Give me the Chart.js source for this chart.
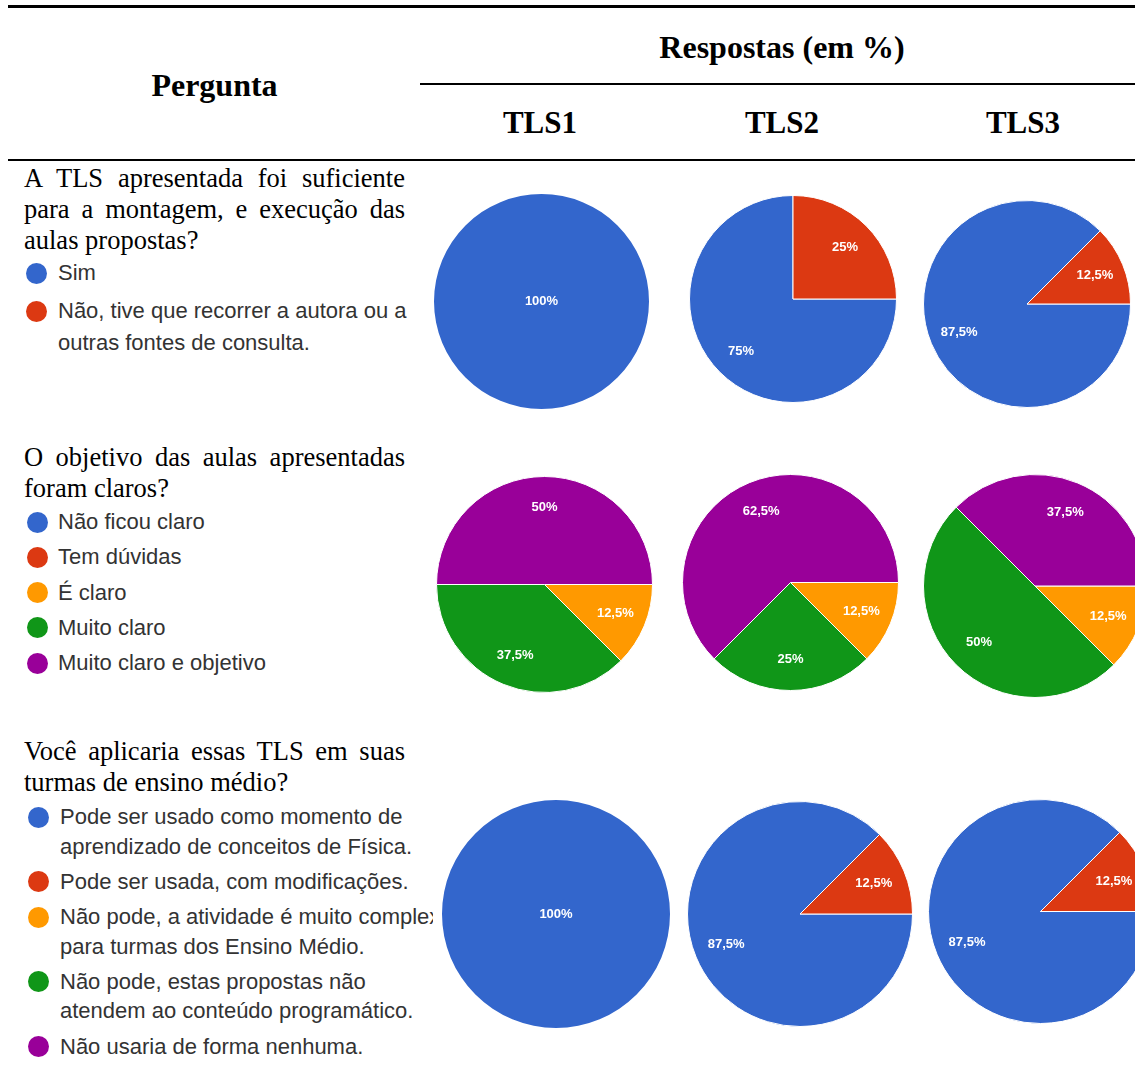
<!DOCTYPE html>
<html>
<head>
<meta charset="utf-8">
<script src="https://cdn.jsdelivr.net/npm/chart.js@4/dist/chart.umd.min.js"></script>
<style>
  html, body { margin:0; padding:0; background:#fff; width:1135px; height:1068px; overflow:hidden; }
  #page { position:relative; width:1135px; height:1068px; overflow:hidden; }
  .abs { position:absolute; }
  .rule { position:absolute; background:#000; }
  .hdr { position:absolute; font-family:"Liberation Serif","Times New Roman",serif; font-weight:bold; color:#000; white-space:nowrap; text-align:center; }
  .q { position:absolute; font-family:"Liberation Serif","Times New Roman",serif; font-size:26.5px; color:#000; white-space:nowrap; height:31px; line-height:31px; }
  .q.just { text-align:justify; text-align-last:justify; }
  .lg { position:absolute; font-family:"Liberation Sans",Arial,sans-serif; font-size:22px; color:#333; white-space:nowrap; height:30px; line-height:30px; }
  .dot { position:absolute; border-radius:50%; }
  .clip { position:absolute; left:0; top:0; width:433px; height:1068px; overflow:hidden; }
</style>
</head>
<body>
<div id="page">
  <div class="clip" id="leftcol"></div>
</div>
<script>
// ---------------- DATA ----------------
const columnLabels = ['TLS1', 'TLS2', 'TLS3'];
const headerTitle = 'Respostas (em %)';
const headerQuestion = 'Pergunta';
const colors = ['#3366cc', '#dc3912', '#ff9900', '#109618', '#990099'];

const question1 = 'A TLS apresentada foi suficiente\npara a montagem, e execução das\naulas propostas?';
const options1 = ['Sim', 'Não, tive que recorrer a autora ou a\noutras fontes de consulta.'];
const q1TLS1 = [100, 0];
const q1TLS2 = [75, 25];
const q1TLS3 = [87.5, 12.5];

const question2 = 'O objetivo das aulas apresentadas\nforam claros?';
const options2 = ['Não ficou claro', 'Tem dúvidas', 'É claro', 'Muito claro', 'Muito claro e objetivo'];
const q2TLS1 = [0, 0, 12.5, 37.5, 50];
const q2TLS2 = [0, 0, 12.5, 25, 62.5];
const q2TLS3 = [0, 0, 12.5, 50, 37.5];

const question3 = 'Você aplicaria essas TLS em suas\nturmas de ensino médio?';
const options3 = [
  'Pode ser usado como momento de\naprendizado de conceitos de Física.',
  'Pode ser usada, com modificações.',
  'Não pode, a atividade é muito complexa\npara turmas dos Ensino Médio.',
  'Não pode, estas propostas não\natendem ao conteúdo programático.',
  'Não usaria de forma nenhuma.'
];
const q3TLS1 = [100, 0, 0, 0, 0];
const q3TLS2 = [87.5, 12.5, 0, 0, 0];
const q3TLS3 = [87.5, 12.5, 0, 0, 0];

// ---------------- LAYOUT ----------------
const page = document.getElementById('page');
const leftcol = document.getElementById('leftcol');

function el(cls, parent, css, text) {
  const d = document.createElement('div');
  d.className = cls;
  Object.assign(d.style, css);
  if (text !== undefined) d.textContent = text;
  (parent || page).appendChild(d);
  return d;
}

// rules
el('rule', page, {left:'8px', top:'5px', width:'1127px', height:'2.5px'});
el('rule', page, {left:'420px', top:'83px', width:'715px', height:'2px'});
el('rule', page, {left:'8px', top:'159px', width:'1127px', height:'2px'});

// headers
function hdr(text, cx, cy, size) {
  el('hdr', page, {left:(cx - 200) + 'px', width:'400px', top:(cy - 20) + 'px', height:'40px', lineHeight:'40px', fontSize:size + 'px'}, text);
}
hdr(headerTitle, 782, 47, 32);
hdr(headerQuestion, 214.5, 85, 32);
const colCenters = [540, 782, 1023];
columnLabels.forEach((t, i) => hdr(t, colCenters[i], 123, 31));

// question text blocks
function question(text, firstY) {
  const lines = text.split('\n');
  lines.forEach((ln, i) => {
    const just = i < lines.length - 1;
    el('q' + (just ? ' just' : ''), leftcol, {left:'24px', width:'381px', top:(firstY + i * 31 - 15.5) + 'px'}, ln);
  });
}
question(question1, 178);
question(question2, 457);
question(question3, 751);

// legends
function legend(items, firstY, lineStep, itemGap, dotX, textX) {
  let y = firstY;
  items.forEach((label, i) => {
    const lines = label.split('\n');
    el('dot', leftcol, {left:(dotX - 10.5) + 'px', top:(y - 10.5) + 'px', width:'21px', height:'21px', background:colors[i]});
    lines.forEach((ln, j) => {
      el('lg', leftcol, {left:textX + 'px', top:(y + j * lineStep - 15) + 'px'}, ln);
    });
    y += (lines.length - 1) * lineStep + itemGap;
  });
}
legend(options1, 273, 32, 38, 36, 58);
legend(options2, 522, 30, 35.3, 37, 58);
legend(options3, 817, 29.5, 35.3, 38, 60);

// ---------------- CHARTS ----------------
function fmt(v) { return String(v).replace('.', ',') + '%'; }

const sliceLabels = {
  id: 'sliceLabels',
  afterDatasetsDraw(chart) {
    const ctx = chart.ctx;
    const meta = chart.getDatasetMeta(0);
    const data = chart.data.datasets[0].data;
    const total = data.reduce((a, b) => a + b, 0);
    ctx.save();
    ctx.font = 'bold 13px "Liberation Sans", Arial, sans-serif';
    ctx.fillStyle = '#ffffff';
    ctx.textAlign = 'center';
    ctx.textBaseline = 'middle';
    meta.data.forEach((arc, i) => {
      const v = data[i];
      if (!v) return;
      const p = arc.getProps(['x', 'y', 'startAngle', 'endAngle', 'outerRadius'], true);
      let px = p.x, py = p.y;
      if (v < total) {
        const mid = (p.startAngle + p.endAngle) / 2;
        px = p.x + Math.cos(mid) * p.outerRadius * 0.71;
        py = p.y + Math.sin(mid) * p.outerRadius * 0.71;
      }
      ctx.fillText(fmt(v), px, py);
    });
    ctx.restore();
  }
};

function pie(values, labels, cx, cy, r) {
  const size = Math.round(2 * r + 2);
  const holder = el('abs', page, {left:(cx - size / 2) + 'px', top:(cy - size / 2) + 'px', width:size + 'px', height:size + 'px'});
  const cv = document.createElement('canvas');
  cv.width = size; cv.height = size;
  cv.style.width = size + 'px'; cv.style.height = size + 'px';
  holder.appendChild(cv);
  const total = values.reduce((a, b) => a + b, 0);
  new Chart(cv, {
    type: 'pie',
    data: {
      labels: labels,
      datasets: [{
        data: values,
        backgroundColor: colors.slice(0, values.length),
        borderColor: '#ffffff',
        borderWidth: (c) => (c.raw > 0 && c.raw < total) ? 1 : 0
      }]
    },
    options: {
      responsive: false,
      maintainAspectRatio: false,
      animation: false,
      devicePixelRatio: 1,
      rotation: 90,
      layout: { padding: 0 },
      plugins: { legend: { display: false }, tooltip: { enabled: false } }
    },
    plugins: [sliceLabels]
  });
}

pie(q1TLS1, options1, 541.5, 301, 106.5);
pie(q1TLS2, options1, 792.5, 299, 103);
pie(q1TLS3, options1, 1026.5, 303.5, 103);

pie(q2TLS1, options2, 544, 584, 107.5);
pie(q2TLS2, options2, 790.5, 582, 107.5);
pie(q2TLS3, options2, 1035, 586, 111);

pie(q3TLS1, options3, 555.5, 914, 113);
pie(q3TLS2, options3, 800, 913.5, 112);
pie(q3TLS3, options3, 1040, 911.5, 111.5);
</script>
</body>
</html>
